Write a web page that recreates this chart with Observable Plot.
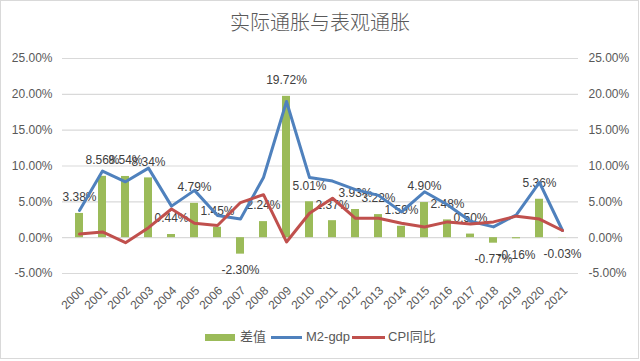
<!DOCTYPE html>
<html>
<head>
<meta charset="utf-8">
<script src="https://cdn.jsdelivr.net/npm/d3@7"></script>
<script src="https://cdn.jsdelivr.net/npm/@observablehq/plot@0.6"></script>
<style>
  html, body { margin: 0; padding: 0; background: #fff; }
  #wrap { position: relative; width: 640px; height: 361px; overflow: hidden; font-family: "Liberation Sans", Arial, sans-serif; }
  #frame { position: absolute; left: 0; top: 0; width: 637px; height: 357px; border: 1px solid #d9d9d9; }
  #title { position: absolute; left: 0; top: 9px; width: 640px; text-align: center; font-family: "Noto Sans CJK SC", sans-serif; font-weight: 300; font-size: 20px; color: #595959; line-height: 26px; }
  #chart { position: absolute; left: 0; top: 40px; }
  .lg { position: absolute; font-size: 13px; color: #595959; line-height: 16px; top: 329px; font-family: "Liberation Sans", "Noto Sans CJK SC", sans-serif; }
  .sw { position: absolute; }
</style>
</head>
<body>
<div id="wrap">
  <div id="frame"></div>
  <div id="title">实际通胀与表观通胀</div>
  <div id="chart"></div>
  <div class="sw" style="left:205px;top:334px;width:30px;height:7px;background:#9BBB59"></div>
  <div class="lg" style="left:240px;">差值</div>
  <div class="sw" style="left:271px;top:336px;width:31px;height:3px;background:#4F81BD"></div>
  <div class="lg" style="left:306px;">M2-gdp</div>
  <div class="sw" style="left:352px;top:336px;width:33px;height:3px;background:#C0504D"></div>
  <div class="lg" style="left:388px;">CPI同比</div>
</div>
<script>
const years = ["2000","2001","2002","2003","2004","2005","2006","2007","2008","2009","2010","2011","2012","2013","2014","2015","2016","2017","2018","2019","2020","2021"];
const diff = [3.38, 8.56, 8.54, 8.34, 0.44, 4.79, 1.45, -2.30, 2.24, 19.72, 5.01, 2.37, 3.93, 3.22, 1.59, 4.90, 2.48, 0.50, -0.77, -0.16, 5.36, -0.03];
const m2gdp = [3.8, 9.3, 7.8, 9.7, 4.4, 6.6, 3.1, 2.6, 8.4, 19.0, 8.4, 7.9, 6.7, 5.9, 3.6, 6.4, 4.6, 2.3, 1.5, 3.2, 7.7, 1.0];
const cpi = [0.5, 0.8, -0.7, 1.4, 4.0, 2.0, 1.7, 4.9, 6.0, -0.6, 3.4, 5.5, 2.7, 2.7, 2.0, 1.5, 2.2, 1.9, 2.2, 3.0, 2.6, 1.0];
const yTicks = [-5, 0, 5, 10, 15, 20, 25];

const rows = years.map((y, i) => ({year: y, diff: diff[i], m2: m2gdp[i], cpi: cpi[i]}));
const fmt = v => v.toFixed(2) + "%";

const chart = Plot.plot({
  width: 640,
  height: 280,
  marginLeft: 62,
  marginRight: 62,
  marginTop: 18,
  marginBottom: 47,
  style: {fontFamily: "'Liberation Sans', Arial, sans-serif", fontSize: "12px", color: "#595959", background: "transparent"},
  x: {domain: years, type: "band", paddingInner: 0.66, paddingOuter: 0.33, label: null},
  y: {domain: [-5, 25], label: null},
  marks: [
    Plot.gridY(yTicks, {stroke: "#d9d9d9", strokeOpacity: 1, strokeWidth: 1.2}),
    Plot.axisY(yTicks, {anchor: "left", tickSize: 0, tickPadding: 10, tickFormat: fmt, fill: "#595959", fontSize: 12, label: null}),
    Plot.axisY(yTicks, {anchor: "right", tickSize: 0, tickPadding: 10, tickFormat: fmt, fill: "#595959", fontSize: 12, label: null}),
    Plot.axisX({anchor: "bottom", tickSize: 0, tickPadding: 15, tickRotate: -45, fill: "#595959", fontSize: 12, dx: 3, label: null}),
    Plot.barY(rows, {x: "year", y: "diff", fill: "#9BBB59"}),
    Plot.text(rows.filter(d => d.diff >= 0), {x: "year", y: "diff", text: d => fmt(d.diff), dy: -16, fill: "#404040", fontSize: 12}),
    Plot.text(rows.filter(d => d.diff < 0), {x: "year", y: "diff", text: d => fmt(d.diff), dy: 16, fill: "#404040", fontSize: 12}),
    Plot.line(rows, {x: "year", y: "m2", stroke: "#4F81BD", strokeWidth: 3, strokeLinejoin: "round", strokeLinecap: "round"}),
    Plot.line(rows, {x: "year", y: "cpi", stroke: "#C0504D", strokeWidth: 3, strokeLinejoin: "round", strokeLinecap: "round"})
  ]
});
document.getElementById("chart").appendChild(chart);
</script>
</body>
</html>
